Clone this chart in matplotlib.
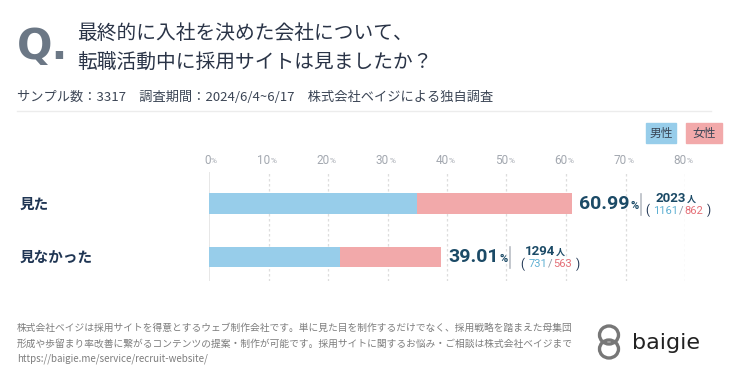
import matplotlib
matplotlib.use("Agg")
import matplotlib.pyplot as plt
from matplotlib.patches import Ellipse, Rectangle
import numpy as np

plt.rcParams['font.family'] = ['Noto Sans CJK JP', 'DejaVu Sans']

categories = ['見た', '見なかった']
male_pct = [35.03, 22.04]
female_pct = [25.96, 16.97]
total_pct = ['60.99', '39.01']
totals = [2023, 1294]
male_n = [1161, 731]
female_n = [862, 563]
ticks = [0, 10, 20, 30, 40, 50, 60, 70, 80]

BLUE = '#97cdea'
PINK = '#f2a9aa'
NAVY = '#1f3553'
TEAL = '#1b4a66'
MALE_TXT = '#5fb0d3'
FEMALE_TXT = '#e56f77'
NUMFONT = ['Roboto', 'DejaVu Sans']

W, H = 729, 384
fig = plt.figure(figsize=(W / 100, H / 100), dpi=100)
renderer = fig.canvas.get_renderer()

def px(x, y):
    return x / W, 1 - y / H

def ptext(x, y, s, **kw):
    return fig.text(x / W, 1 - y / H, s, **kw)

def width(t):
    return t.get_window_extent(renderer).width

# header
ptext(17, 47, 'Q.', fontsize=30, fontweight='bold', color='#6b7785',
      va='center', ha='left', family='DejaVu Sans')
ptext(77, 33, '最終的に入社を決めた会社について、', fontsize=14.2,
      color='#2a3447', va='center')
ptext(77, 63, '転職活動中に採用サイトは見ましたか？', fontsize=14.2,
      color='#2a3447', va='center')
ptext(17, 97, 'サンプル数：3317　調査期間：2024/6/4~6/17　株式会社ベイジによる独自調査',
      fontsize=9.5, color='#3b4555', va='center')
fig.add_artist(plt.Line2D([17 / W, 711 / W], [1 - 111 / H] * 2, color='#ececec', lw=1))

# legend
for x0, x1, lab, c in [(646, 676, '男性', BLUE), (686, 722, '女性', PINK)]:
    fig.add_artist(Rectangle(px(x0, 143), (x1 - x0) / W, 20 / H, color=c,
                             transform=fig.transFigure))
    ptext((x0 + x1) / 2, 133, lab, fontsize=8.5, color='#3a4656',
          ha='center', va='center')

# chart area
y0, y1 = 172, 281
ax = fig.add_axes([209 / W, 1 - y1 / H, (685 - 209) / W, (y1 - y0) / H])
pos = np.arange(len(categories))
ax.set_xlim(0, 80)
ax.set_ylim(1.45, -0.59)
ax.barh(pos, male_pct, height=0.38, color=BLUE)
ax.barh(pos, female_pct, left=male_pct, height=0.38, color=PINK)
for t in ticks:
    if t == 0:
        ax.axvline(t, color='#e3e3e3', lw=1.2, zorder=0)
    else:
        ax.axvline(t, color='#dddddd', lw=0.9, ls=(0, (2, 2)), zorder=0)
    ax.annotate(str(t), (t, 1), xycoords=('data', 'axes fraction'),
                xytext=(1, 8), textcoords='offset points', ha='right', va='center',
                fontsize=8.5, color='#a3a8b0', family=NUMFONT, annotation_clip=False)
    ax.annotate('%', (t, 1), xycoords=('data', 'axes fraction'),
                xytext=(1.3, 7.6), textcoords='offset points', ha='left', va='center',
                fontsize=6, color='#a3a8b0', family=NUMFONT, annotation_clip=False)
for s in ax.spines.values():
    s.set_visible(False)
ax.set_xticks([])
ax.set_yticks([])

for i, cat in enumerate(categories):
    ex, cy = ax.transData.transform((male_pct[i] + female_pct[i], i))
    cy = H - cy
    ptext(20, cy, cat, fontsize=10.5, fontweight='bold', color=NAVY, va='center')
    tp = ptext(ex + 7, cy, total_pct[i], fontsize=14, fontweight='bold', color=TEAL,
               va='center', family=NUMFONT)
    ptext(ex + 8 + width(tp), cy + 2, '%', fontsize=8, fontweight='bold', color=TEAL,
          va='center', family=NUMFONT)
    fig.add_artist(plt.Line2D([(ex + 69) / W] * 2, [1 - (cy - 10) / H, 1 - (cy + 11) / H],
                              color='#b9bec5', lw=1.2))
    cx = ex + 109
    ptext(cx + 5, cy - 5.5, f'{totals[i]}', fontsize=9.5, fontweight='bold',
          color=TEAL, va='center', ha='right', family=NUMFONT)
    ptext(cx + 5.5, cy - 4.5, '人', fontsize=6.5, fontweight='bold', color=TEAL,
          va='center')
    ly = cy + 7
    tm = ptext(cx - 3, ly, f'{male_n[i]}', fontsize=8, color=MALE_TXT, ha='right',
               va='center', family=NUMFONT)
    ptext(cx, ly, '/', fontsize=8, color='#8a95a3', ha='center', va='center',
          family=NUMFONT)
    tf = ptext(cx + 3, ly, f'{female_n[i]}', fontsize=8, color=FEMALE_TXT, ha='left',
               va='center', family=NUMFONT)
    ptext(cx - 3 - width(tm) - 4, ly, '(', fontsize=8.5, color=NAVY, va='center',
          ha='right', family=NUMFONT)
    ptext(cx + 3 + width(tf) + 4, ly, ')', fontsize=8.5, color=NAVY, va='center',
          ha='left', family=NUMFONT)

# footer
foot = ['株式会社ベイジは採用サイトを得意とするウェブ制作会社です。単に見た目を制作するだけでなく、採用戦略を踏まえた母集団',
        '形成や歩留まり率改善に繋がるコンテンツの提案・制作が可能です。採用サイトに関するお悩み・ご相談は株式会社ベイジまで',
        'https://baigie.me/service/recruit-website/']
for k, line in enumerate(foot):
    ptext(17, 328 + 15.5 * k, line, fontsize=7, color='#7d7d7d', va='center')

# logo
for dy in (-7, 7):
    e = Ellipse(px(609, 342 + dy), 19 / W, 18 / H, fill=False, lw=2.4,
                edgecolor='#777777', transform=fig.transFigure)
    fig.add_artist(e)
ptext(632, 343, 'baigie', fontsize=16, color='#222222', va='center',
      family='DejaVu Sans')

fig.savefig('out.png', dpi=100, facecolor='white')
